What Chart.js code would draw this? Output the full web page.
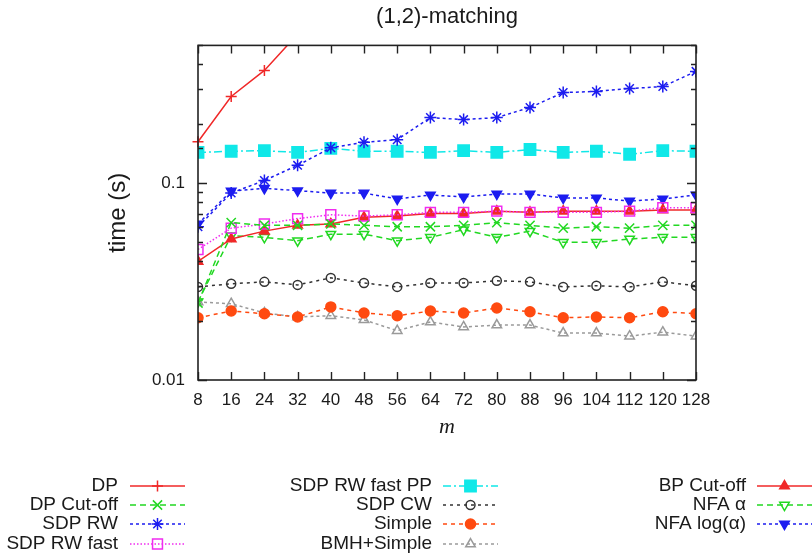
<!DOCTYPE html>
<html>
<head>
<meta charset="utf-8">
<title>(1,2)-matching</title>
<script src="https://cdn.jsdelivr.net/npm/chart.js@4.4.1/dist/chart.umd.min.js"></script>
<style>
  html,body{margin:0;padding:0;background:#fff;}
  #wrap{width:812px;height:554px;}
</style>
</head>
<body>
<div id="wrap"><canvas id="c" width="812" height="554"></canvas></div>
<script>
// (1,2)-matching – Laufzeiten, log-Skala, gnuplot-Look
var M = [8, 16, 24, 32, 40, 48, 56, 64, 72, 80, 88, 96, 104, 112, 120, 128];

var DP          = [0.162, 0.275, 0.373, 0.57, null, null, null, null, null, null, null, null, null, null, null, null];
var DP_CUTOFF   = [0.0246, 0.063, 0.061, 0.061, 0.062, 0.061, 0.060, 0.060, 0.061, 0.063, 0.061, 0.059, 0.060, 0.059, 0.061, 0.061];
var SDP_RW      = [0.060, 0.089, 0.103, 0.123, 0.151, 0.161, 0.166, 0.215, 0.210, 0.215, 0.242, 0.288, 0.292, 0.302, 0.309, 0.369];
var SDP_RW_FAST = [0.046, 0.059, 0.062, 0.066, 0.069, 0.068, 0.069, 0.071, 0.071, 0.072, 0.071, 0.071, 0.071, 0.072, 0.075, 0.075];
var SDP_RW_PP   = [0.143, 0.145, 0.146, 0.143, 0.150, 0.145, 0.145, 0.143, 0.146, 0.143, 0.148, 0.143, 0.145, 0.140, 0.146, 0.145];
var SDP_CW      = [0.0297, 0.0308, 0.0315, 0.0304, 0.0330, 0.0311, 0.0297, 0.0311, 0.0311, 0.0319, 0.0315, 0.0297, 0.0301, 0.0297, 0.0315, 0.0301];
var SIMPLE      = [0.0207, 0.0224, 0.0217, 0.0209, 0.0235, 0.0219, 0.0212, 0.0224, 0.0219, 0.0232, 0.0222, 0.0207, 0.0209, 0.0207, 0.0222, 0.0217];
var BMH_SIMPLE  = [0.0249, 0.0244, 0.0219, 0.0209, 0.0212, 0.0202, 0.0178, 0.0197, 0.0186, 0.0190, 0.0190, 0.0173, 0.0173, 0.0167, 0.0175, 0.0167];
var BP_CUTOFF   = [0.040, 0.052, 0.057, 0.061, 0.062, 0.067, 0.068, 0.070, 0.070, 0.072, 0.071, 0.072, 0.072, 0.072, 0.073, 0.073];
var NFA_A       = [0.025, 0.054, 0.053, 0.051, 0.055, 0.055, 0.051, 0.053, 0.058, 0.053, 0.057, 0.050, 0.050, 0.052, 0.053, 0.053];
var NFA_LOGA    = [0.062, 0.091, 0.094, 0.0915, 0.089, 0.089, 0.083, 0.087, 0.085, 0.088, 0.088, 0.084, 0.084, 0.081, 0.083, 0.087];

var Y_LABELS = [0.01, 0.1];

var FONT = "Arial, 'Liberation Sans', sans-serif";
var TXT = "#1a1a1a";

// Linien-/Markerstile wie gnuplot
function ds(label, vals, color, dash, style, radius, filled, rot){
  return {
    label: label,
    data: M.map(function(m, i){ return {x: m, y: vals[i]}; }),
    borderColor: color, backgroundColor: color,
    borderWidth: 1.5, borderDash: dash,
    pointStyle: style, pointRadius: radius, pointRotation: rot || 0,
    pointBorderColor: color, pointBorderWidth: 1.5,
    pointBackgroundColor: filled ? color : "rgba(0,0,0,0)",
    tension: 0, spanGaps: false
  };
}

var datasets = [
  ds("DP",             DP,          "#f02828", [],            "cross",    5.5, false),
  ds("DP Cut-off",     DP_CUTOFF,   "#22d822", [6, 4],        "crossRot", 6.5, false),
  ds("SDP RW",         SDP_RW,      "#1c1cf0", [3, 3],        "star",     6, false),
  ds("SDP RW fast",    SDP_RW_FAST, "#f02cf0", [1.5, 2],      "rect",     7, false),
  ds("SDP RW fast PP", SDP_RW_PP,   "#10e8e8", [8, 3, 2, 3],  "rect",     8, true),
  ds("SDP CW",         SDP_CW,      "#333333", [3, 4],        "circle",   4.5, false),
  ds("Simple",         SIMPLE,      "#ff4a10", [4, 4],        "circle",   5, true),
  ds("BMH+Simple",     BMH_SIMPLE,  "#9a9a9a", [3, 3],        "triangle", 5.5, false),
  ds("BP Cut-off",     BP_CUTOFF,   "#f02828", [],            "triangle", 5.5, true),
  ds("NFA α",          NFA_A,       "#22d822", [6, 4],        "triangle", 5.5, false, 180),
  ds("NFA log(α)",     NFA_LOGA,    "#1c1cf0", [3, 3],        "triangle", 5.5, true, 180)
];
// DP läuft oben raus -> oben hart abschneiden
datasets[0].clip = {left: 10, right: 10, top: 0, bottom: 10};

// Rahmen + Ticks nach innen (beidseitig), eigene Legende unten
var gnuPlot = {
  id: "gnuPlot",
  afterDatasetsDraw: function(chart){
    var ctx = chart.ctx, a = chart.chartArea;
    var xs = chart.scales.x, ys = chart.scales.y;
    ctx.save();
    ctx.strokeStyle = "#222"; ctx.lineWidth = 1.4; ctx.setLineDash([]);
    ctx.beginPath();
    ys.ticks.forEach(function(t){
      var y = Math.round(ys.getPixelForValue(t.value)) + 0.5;
      var lg = Math.log10(t.value);
      var len = Math.abs(lg - Math.round(lg)) < 1e-6 ? 9 : 5;
      ctx.moveTo(a.left, y); ctx.lineTo(a.left + len, y);
      ctx.moveTo(a.right, y); ctx.lineTo(a.right - len, y);
    });
    xs.ticks.forEach(function(t){
      var x = Math.round(xs.getPixelForValue(t.value)) + 0.5;
      ctx.moveTo(x, a.bottom); ctx.lineTo(x, a.bottom - 8);
      ctx.moveTo(x, a.top); ctx.lineTo(x, a.top + 8);
    });
    ctx.stroke();
    ctx.lineWidth = 1.6;
    ctx.strokeRect(a.left, a.top, a.right - a.left, a.bottom - a.top);
    ctx.restore();
  },
  afterDraw: function(chart){
    var ctx = chart.ctx;
    var colText = [118, 432, 746], colLine = [130, 443, 757], lineLen = 55;
    var rowY = [486, 505, 524, 544];
    ctx.save();
    ctx.font = "19px " + FONT;
    ctx.textAlign = "right"; ctx.textBaseline = "middle";
    chart.data.datasets.forEach(function(d, i){
      var c = Math.floor(i / 4), r = i % 4, y = rowY[r];
      ctx.fillStyle = TXT;
      ctx.fillText(d.label, colText[c], y);
      ctx.strokeStyle = d.borderColor; ctx.lineWidth = d.borderWidth;
      ctx.setLineDash(d.borderDash || []);
      ctx.beginPath(); ctx.moveTo(colLine[c], y); ctx.lineTo(colLine[c] + lineLen, y); ctx.stroke();
      ctx.setLineDash([]);
      ctx.fillStyle = d.pointBackgroundColor; ctx.strokeStyle = d.pointBorderColor; ctx.lineWidth = d.pointBorderWidth;
      Chart.helpers.drawPoint(ctx, {pointStyle: d.pointStyle, radius: d.pointRadius, rotation: d.pointRotation, borderWidth: d.pointBorderWidth}, colLine[c] + lineLen / 2, y);
    });
    ctx.restore();
  }
};

new Chart(document.getElementById("c"), {
  type: "line",
  data: { datasets: datasets },
  plugins: [gnuPlot],
  options: {
    responsive: false, animation: false,
    layout: { padding: { left: 0, right: 116, top: 0, bottom: 104 } },
    plugins: {
      legend: { display: false },
      tooltip: { enabled: false },
      title: { display: true, text: "(1,2)-matching", fullSize: false, color: TXT,
               font: { family: FONT, size: 22, weight: "normal" }, padding: { top: 4, bottom: 15 } }
    },
    scales: {
      x: {
        type: "linear", min: 8, max: 128,
        grid: { display: false, drawTicks: false }, border: { display: false },
        ticks: { stepSize: 8, autoSkip: false, maxRotation: 0, padding: 10, color: TXT, font: { family: FONT, size: 17 } },
        title: { display: true, text: "m", color: TXT, font: { family: "'Liberation Serif', serif", style: "italic", size: 22 }, padding: { top: 0, bottom: 10 } },
        afterFit: function(s){ s.height = 70; }
      },
      y: {
        type: "logarithmic", min: 0.01, max: 0.5,
        grid: { display: false, drawTicks: false }, border: { display: false },
        ticks: {
          autoSkip: false, padding: 13, color: TXT, font: { family: FONT, size: 17 },
          callback: function(v){
            for (var i = 0; i < Y_LABELS.length; i++) if (Math.abs(v - Y_LABELS[i]) < 1e-9) return String(Y_LABELS[i]);
            return "";
          }
        },
        title: { display: true, text: "time (s)", color: TXT, font: { family: FONT, size: 24 }, padding: { top: 104, bottom: 0 } },
        afterFit: function(s){ s.width = 198; }
      }
    }
  }
});
</script>
</body>
</html>
